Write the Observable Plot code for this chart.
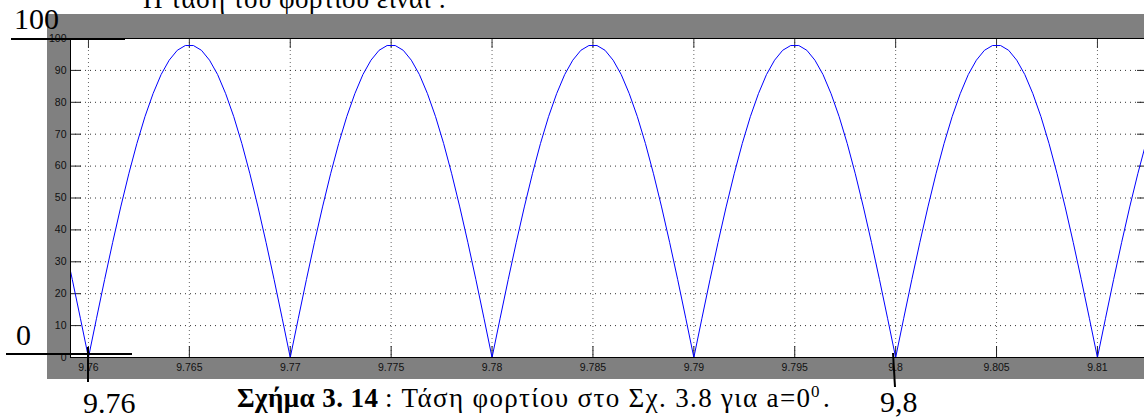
<!DOCTYPE html>
<html>
<head>
<meta charset="utf-8">
<script src="https://cdn.jsdelivr.net/npm/d3@7"></script>
<script src="https://cdn.jsdelivr.net/npm/@observablehq/plot@0.6"></script>
<style>
  html, body { margin: 0; padding: 0; background: #fff; width: 1144px; height: 419px; overflow: hidden; position: relative; }
  #chart { position: absolute; left: 47px; top: 14px; width: 1113px; height: 365px; }
  #overlay { position: absolute; left: 0; top: 0; pointer-events: none; }
</style>
</head>
<body>
<div id="chart"></div>
<svg id="overlay" width="1144" height="419" xmlns="http://www.w3.org/2000/svg">
  <g font-family="'Liberation Serif','Times New Roman',serif" fill="#000">
    <text x="143" y="8" font-size="27" textLength="303" lengthAdjust="spacing">Η τάση του φορτίου είναι :</text>
    <text x="14" y="29" font-size="30">100</text>
    <text x="16" y="345" font-size="30">0</text>
    <text x="83" y="413" font-size="30">9.76</text>
    <text x="880" y="412" font-size="30">9,8</text>
    <text x="237" y="407" font-size="27" font-weight="bold" textLength="141" lengthAdjust="spacing">Σχήμα 3. 14</text>
    <text x="385" y="407" font-size="27" textLength="425" lengthAdjust="spacing">: Τάση φορτίου στο Σχ. 3.8 για a=0</text>
    <text x="811" y="397" font-size="17">0</text>
    <text x="823" y="407" font-size="27">.</text>
  </g>
  <g stroke="#000" stroke-width="2">
    <line x1="11" y1="39" x2="125" y2="39"/>
    <line x1="6" y1="354" x2="132" y2="354"/>
    <line x1="88" y1="347" x2="88" y2="382"/>
    <line x1="893" y1="353" x2="895" y2="387"/>
  </g>
</svg>
<script>
// Tick values and labels
const xTicks = [9.76, 9.765, 9.77, 9.775, 9.78, 9.785, 9.79, 9.795, 9.8, 9.805, 9.81];
const xTickLabels = ["9.76", "9.765", "9.77", "9.775", "9.78", "9.785", "9.79", "9.795", "9.8", "9.805", "9.81"];
const yTicks = [0, 10, 20, 30, 40, 50, 60, 70, 80, 90, 100];
const xDomain = [9.75911, 9.81253];
const yDomain = [0, 100];

// Rectified load voltage: start time of each half-wave, sample step, sampled values of one half-wave
const archStarts = [9.75, 9.76, 9.77, 9.78, 9.79, 9.80, 9.81];
const sampleStep = 0.0004;
const archValues = [0, 12.3, 24.4, 36.1, 47.2, 57.6, 67.1, 75.5, 82.7, 88.7, 93.2, 96.3, 97.8,
                    97.8, 96.3, 93.2, 88.7, 82.7, 75.5, 67.1, 57.6, 47.2, 36.1, 24.4, 12.3, 0];

const data = [];
archStarts.forEach(s => {
  for (let k = 0; k < archValues.length - 1; k++) {
    data.push({t: +(s + k * sampleStep).toFixed(4), v: archValues[k]});
  }
});
data.push({t: 9.82, v: 0});

const W = 1113, H = 365, mL = 23, mR = 12, mT = 24, mB = 22;
const plotW = W - mL - mR, plotH = H - mT - mB;
const labelOf = new Map(xTicks.map((t, i) => [t, xTickLabels[i]]));

const chart = Plot.plot({
  width: W, height: H,
  marginLeft: mL, marginRight: mR, marginTop: mT, marginBottom: mB,
  style: {background: "#808080", maxWidth: "none", fontFamily: "'Liberation Sans', Arial, sans-serif", fontSize: "10.5px", color: "#111"},
  x: {domain: xDomain, ticks: xTicks, tickFormat: d => labelOf.get(d) ?? "", tickSize: 0, tickPadding: 6, label: null},
  y: {domain: yDomain, ticks: yTicks, tickSize: 0, tickPadding: 4, label: null},
  marks: [
    Plot.frame({fill: "white", stroke: "none"}),
    Plot.ruleX(xTicks, {stroke: "#666", strokeDasharray: "1,3"}),
    Plot.ruleY(yTicks.slice(1, -1), {stroke: "#333", strokeDasharray: "1,4"}),
    Plot.tickY(yTicks, {stroke: "#222", insetRight: plotW - 11}),
    Plot.tickY(yTicks, {stroke: "#222", insetLeft: plotW - 11}),
    Plot.tickX(xTicks, {stroke: "#333", insetBottom: plotH - 10}),
    Plot.tickX(xTicks, {stroke: "#222", insetTop: plotH - 11}),
    Plot.line(data, {x: "t", y: "v", stroke: "#0000ff", strokeWidth: 1, clip: true}),
    Plot.frame({stroke: "#000"})
  ]
});
document.getElementById("chart").appendChild(chart);
</script>
</body>
</html>
